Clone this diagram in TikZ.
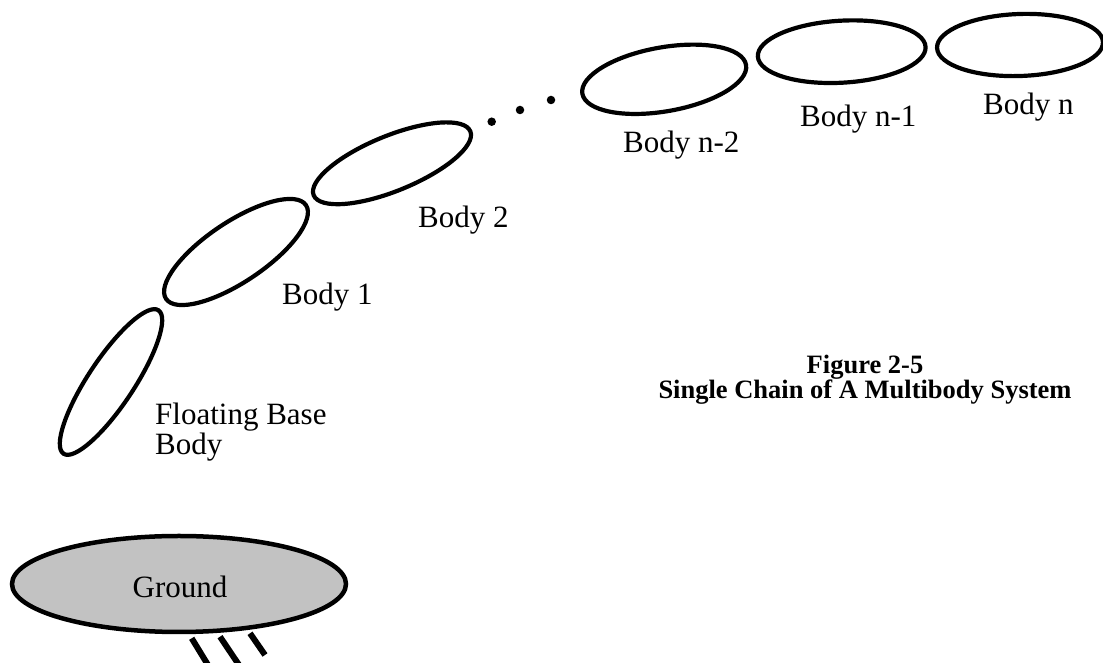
\documentclass[tikz,border=0pt]{standalone}
\usepackage{fontspec}
\setmainfont{Liberation Serif}
\usetikzlibrary{shapes.geometric,calc}
\tikzset{
  body/.style={draw, ellipse, line width=4.2pt, inner sep=0pt, outer sep=0pt},
  lbl/.style={anchor=base west, inner sep=0pt, font=\fontsize{31}{30}\selectfont, align=left},
  chaindot/.style={fill, circle, minimum size=8.5pt, inner sep=0pt},
  hatch/.style={line width=6pt}
}
\begin{document}
\begin{tikzpicture}[x=1pt, y=1pt]
\useasboundingbox (0,0) rectangle (1103,663);
% bodies
\node[body, minimum width=172pt, minimum height=46pt, rotate=56.5] (base) at (111,281) {};
\node[body, minimum width=168.4pt, minimum height=60pt, rotate=33.8] (b1) at (236,411) {};
\node[body, minimum width=169.2pt, minimum height=55.2pt, rotate=22.2] (b2) at (392,499.7) {};
\node[body, minimum width=166.2pt, minimum height=64pt, rotate=10] (bn2) at (664.2,583.7) {};
\node[body, minimum width=168pt, minimum height=62pt, rotate=3.3] (bn1) at (841.7,611.3) {};
\node[body, minimum width=166pt, minimum height=62pt, rotate=2] (bn) at (1020,618) {};
% dots
\node[chaindot] (d1) at (491.7,541.3) {};
\node[chaindot] (d2) at (520,553) {};
\node[chaindot] (d3) at (551,563) {};
% labels
\node[lbl] (lbase) at (155,208) {Floating Base\\Body};
\node[lbl] (lb1) at (282,358) {Body 1};
\node[lbl] (lb2) at (418,435) {Body 2};
\node[lbl] (lbn2) at (623,510) {Body n-2};
\node[lbl] (lbn1) at (800,536) {Body n-1};
\node[lbl] (lbn) at (983,548) {Body n};
% ground
\node[draw, ellipse, line width=4.5pt, fill=black!24, minimum width=334pt, minimum height=96pt, inner sep=0pt] (ground) at (179,79) {};
\node[anchor=base, inner sep=0pt, font=\fontsize{31}{30}\selectfont] (gtext) at (180,65) {Ground};
\coordinate (h1a) at (191.7,24.7);
\coordinate (h1b) at (208,-2);
\coordinate (h2a) at (220,26.3);
\coordinate (h2b) at (239,-2);
\coordinate (h3a) at (250,29.7);
\coordinate (h3b) at (265,8);
\draw[hatch] (h1a) -- (h1b);
\draw[hatch] (h2a) -- (h2b);
\draw[hatch] (h3a) -- (h3b);
% caption
\node[align=center, anchor=base, inner sep=0pt, font=\bfseries\fontsize{26.5}{25}\selectfont] (cap) at (865,264) {Figure 2-5\\Single Chain of A Multibody System};
\end{tikzpicture}
\end{document}
